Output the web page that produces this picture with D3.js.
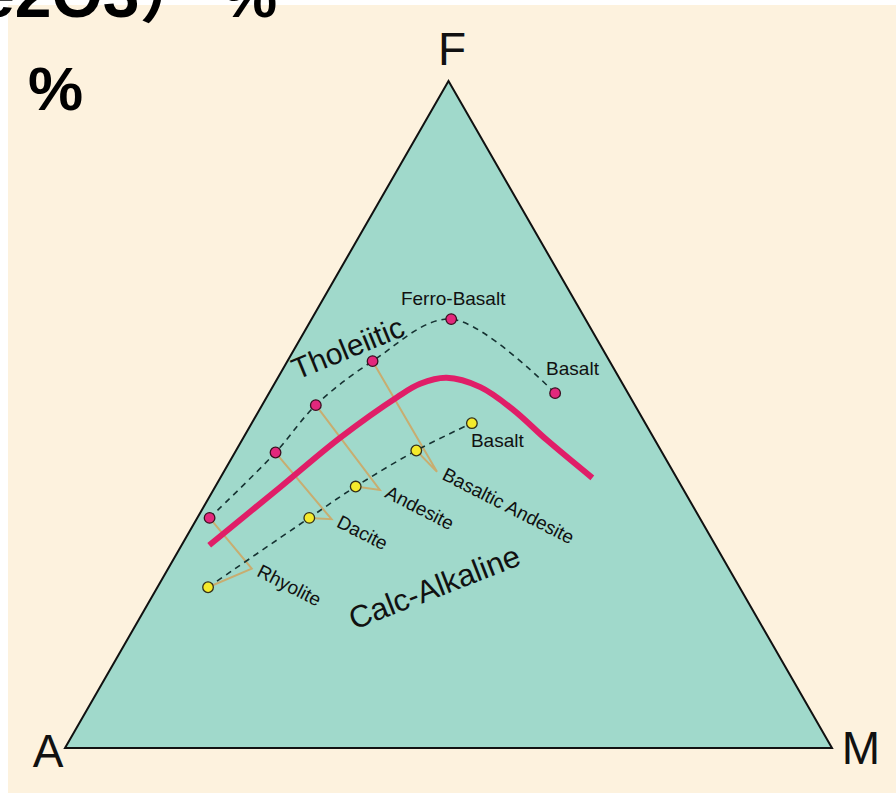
<!DOCTYPE html>
<html>
<head>
<meta charset="utf-8">
<script src="https://cdn.jsdelivr.net/npm/d3@7"></script>
<style>
  html, body { margin: 0; padding: 0; background: #ffffff; }
  svg { display: block; }
  text { font-family: "Liberation Sans", Arial, "Noto Sans CJK SC", sans-serif; }
</style>
</head>
<body>
<svg id="chart" width="896" height="793"></svg>
<script>
// AFM ternary diagram: A = Na2O+K2O, F = FeO+Fe2O3, M = MgO (wt%)
const vertexNames = ["A", "F", "M"];

// Tholeiitic differentiation trend
const tholeiiticRocks = ["Rhyolite", "Dacite", "Andesite", "Basaltic Andesite", "Ferro-Basalt", "Basalt"];
const tholeiiticA = [63.9, 50.4, 41.6, 30.9, 17.5, 9.5];
const tholeiiticF = [34.5, 44.3, 51.4, 58.0, 64.3, 53.2];
const tholeiiticM = [1.6, 5.3, 7.0, 11.1, 18.2, 37.3];

// Calc-alkaline differentiation trend
const calcRocks = ["Rhyolite", "Dacite", "Andesite", "Basaltic Andesite", "Basalt"];
const calcA = [69.3, 50.9, 42.5, 31.9, 22.6];
const calcF = [24.1, 34.5, 39.2, 44.6, 48.7];
const calcM = [6.6, 14.6, 18.3, 23.5, 28.7];

// Shared label points where the two trends' equivalent rocks are tied together
const tieRocks = ["Rhyolite", "Dacite", "Andesite", "Basaltic Andesite"];
const tieA = [62.2, 48.1, 39.6, 30.8];
const tieF = [26.9, 34.3, 38.7, 41.4];
const tieM = [10.9, 17.6, 21.7, 27.8];

// Tholeiitic / calc-alkaline dividing line
const boundaryA = [66.0, 52.4, 40.9, 30.4, 26.4, 22.5, 18.8, 16.2, 14.1, 11.0];
const boundaryF = [30.4, 39.1, 46.5, 52.6, 54.6, 55.5, 54.1, 50.7, 46.2, 40.5];
const boundaryM = [3.6, 8.5, 12.6, 17.0, 19.0, 22.0, 27.1, 33.1, 39.7, 48.5];

const fieldNames = ["Tholeiitic", "Calc-Alkaline"];

// ---- layout ----
const svg = d3.select("#chart");
const W = 896, H = 793;

const corner = { A: [65, 748], M: [832, 748], F: [448.5, 81] };

// Barycentric projection built from linear scales
const mScale = d3.scaleLinear().domain([0, 100]).range([0, corner.M[0] - corner.A[0]]);
const fxScale = d3.scaleLinear().domain([0, 100]).range([0, corner.F[0] - corner.A[0]]);
const fyScale = d3.scaleLinear().domain([0, 100]).range([corner.A[1], corner.F[1]]);

function project(a, f, m) {
  const s = a + f + m;
  const fn = f / s * 100, mn = m / s * 100;
  return [corner.A[0] + mScale(mn) + fxScale(fn), fyScale(fn)];
}

const zip3 = (names, A, F, M) => names.map((n, i) => ({ name: n, p: project(A[i], F[i], M[i]) }));
const thol = zip3(tholeiiticRocks, tholeiiticA, tholeiiticF, tholeiiticM);
const calc = zip3(calcRocks, calcA, calcF, calcM);
const ties = zip3(tieRocks, tieA, tieF, tieM);
const boundary = boundaryA.map((a, i) => project(a, boundaryF[i], boundaryM[i]));

// background panel
svg.append("rect").attr("x", 8).attr("y", 5).attr("width", W - 8).attr("height", H - 5)
  .attr("fill", "#fdf2de");

// heading lines of the page, running off its top edge
svg.append("text").attr("x", -22).attr("y", 17)
  .attr("font-size", 66).attr("font-weight", "bold").attr("fill", "#000")
  .text("e2O3）");
svg.append("text").attr("x", 222).attr("y", 17)
  .attr("font-size", 62).attr("font-weight", "bold").attr("fill", "#000")
  .text("%");
svg.append("text").attr("x", 28).attr("y", 110)
  .attr("font-size", 62).attr("font-weight", "bold").attr("fill", "#000")
  .text("%");

// triangle
const tri = [project(100, 0, 0), project(0, 100, 0), project(0, 0, 100)];
svg.append("path")
  .attr("d", d3.line()(tri) + "Z")
  .attr("fill", "#a0d9cb")
  .attr("stroke", "#111")
  .attr("stroke-width", 2)
  .attr("stroke-linejoin", "miter");

// vertex labels
const vertexPos = {
  A: { x: 48, y: 767 },
  F: { x: 452, y: 65 },
  M: { x: 861, y: 764 }
};
svg.selectAll("text.vertex").data(vertexNames).join("text")
  .attr("class", "vertex")
  .attr("x", d => vertexPos[d].x).attr("y", d => vertexPos[d].y)
  .attr("text-anchor", "middle")
  .attr("font-size", 46).attr("fill", "#111")
  .text(d => d);

// tie lines from both trends to the shared label point
const tieColor = "#c8ad70";
const tieG = svg.append("g");
ties.forEach(t => {
  const th = thol.find(d => d.name === t.name);
  const ca = calc.find(d => d.name === t.name);
  tieG.append("path").attr("d", d3.line()([th.p, t.p, ca.p]))
    .attr("fill", "none").attr("stroke", tieColor).attr("stroke-width", 2)
    .attr("stroke-linejoin", "miter");
});

// dividing line
svg.append("path")
  .attr("d", d3.line().curve(d3.curveCatmullRom.alpha(0.5))(boundary))
  .attr("fill", "none").attr("stroke", "#e01e68")
  .attr("stroke-width", 6).attr("stroke-linecap", "butt");

// dashed trend lines
const dashed = d3.line().curve(d3.curveCatmullRom.alpha(0.5));
[thol, calc].forEach(series => {
  svg.append("path")
    .attr("d", dashed(series.map(d => d.p)))
    .attr("fill", "none").attr("stroke", "#163232")
    .attr("stroke-width", 1.6).attr("stroke-dasharray", "6,5");
});

// points
svg.selectAll("circle.thol").data(thol).join("circle")
  .attr("class", "thol")
  .attr("cx", d => d.p[0]).attr("cy", d => d.p[1]).attr("r", 5.3)
  .attr("fill", "#e2287c").attr("stroke", "#3a1020").attr("stroke-width", 1.3);
svg.selectAll("circle.calc").data(calc).join("circle")
  .attr("class", "calc")
  .attr("cx", d => d.p[0]).attr("cy", d => d.p[1]).attr("r", 5.3)
  .attr("fill", "#f4ea2c").attr("stroke", "#33301a").attr("stroke-width", 1.3);

// rock labels on the tie points, slanted
svg.selectAll("text.tie").data(ties).join("text")
  .attr("class", "tie")
  .attr("transform", d => `translate(${d.p[0] + 4},${d.p[1] + 7}) rotate(27)`)
  .attr("font-size", 19).attr("fill", "#111")
  .text(d => d.name);

// horizontal labels for the unpaired end-members
const fb = thol.find(d => d.name === "Ferro-Basalt");
svg.append("text").attr("x", fb.p[0] + 2).attr("y", fb.p[1] - 14)
  .attr("text-anchor", "middle").attr("font-size", 19).attr("fill", "#111")
  .text(fb.name);
const tb = thol.find(d => d.name === "Basalt");
svg.append("text").attr("x", tb.p[0] - 9).attr("y", tb.p[1] - 18)
  .attr("font-size", 19).attr("fill", "#111").text(tb.name);
const cb = calc.find(d => d.name === "Basalt");
svg.append("text").attr("x", cb.p[0] - 1).attr("y", cb.p[1] + 24)
  .attr("font-size", 19).attr("fill", "#111").text(cb.name);

// field names
svg.append("text")
  .attr("transform", "translate(297,380) rotate(-22.3)")
  .attr("font-size", 30).attr("fill", "#111").text(fieldNames[0]);
svg.append("text")
  .attr("transform", "translate(354,630) rotate(-21.3)")
  .attr("font-size", 31).attr("fill", "#111").text(fieldNames[1]);
</script>
</body>
</html>
